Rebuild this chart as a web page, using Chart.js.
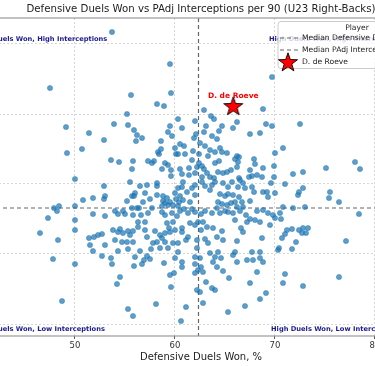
<!DOCTYPE html>
<html><head><meta charset="utf-8">
<style>
html,body{margin:0;padding:0;overflow:hidden;background:#fff;width:375px;height:366px}
#wrap{position:absolute;left:-40px;top:0;width:480px;height:366px}
</style>
<script src="https://cdn.jsdelivr.net/npm/chart.js@4"></script>
</head><body>
<div id="wrap"><canvas id="c" width="480" height="366"></canvas></div>
<script>
const duelsWon = [
53.7,59.5,47.5,55.6,59.6,58.2,58.9,55.2,60.3,49.1,
53.9,55.3,59.5,60.7,55.9,56.2,51.4,59.3,59.7,56.7,
56.1,52.9,58.6,60.5,60.9,49.2,50.7,58.6,60.0,58.3,
58.4,60.1,60.3,61.0,53.6,54.4,55.8,57.3,57.9,57.7,
59.0,59.3,55.7,58.7,59.6,60.5,60.7,59.6,50.0,
69.7,68.8,62.9,62.0,63.6,63.9,66.2,63.1,64.7,65.8,
69.1,69.7,72.5,64.4,62.9,62.1,67.5,68.5,63.7,64.2,
61.9,62.5,63.0,61.8,63.5,64.0,64.7,65.2,62.4,
63.3,66.2,66.4,70.0,70.8,66.0,67.9,64.4,61.7,62.4,
64.0,66.3,68.0,69.9,62.7,62.2,62.9,61.4,65.6,67.5,
65.2,64.3,68.8,78.0,78.5,75.1,72.8,71.8,63.5,63.9,
66.4,67.4,67.7,68.7,69.9,61.4,62.0,62.7,63.2,64.8,
66.2,68.2,64.5,
50.8,51.8,47.9,48.4,48.2,50.0,47.3,50.0,51.8,50.0,
46.5,48.3,51.4,51.9,51.5,51.8,47.8,50.0,48.7,
52.9,53.0,52.9,55.5,56.5,57.2,58.2,58.2,56.0,55.7,
55.9,57.0,57.5,56.8,55.2,58.2,58.8,59.2,60.0,60.3,
60.7,60.8,60.5,61.2,61.7,62.0,62.0,62.7,63.0,63.7,
63.5,64.0,58.8,59.0,59.5,59.8,60.1,60.4,60.8,61.5,
61.7,60.9,60.3,59.3,58.7,57.7,56.4,55.7,56.2,54.0,
54.8,54.3,55.0,53.0,55.8,56.6,57.3,58.7,59.0,59.7,
60.2,60.5,61.3,62.0,62.6,63.0,63.7,52.3,52.7,53.8,
54.5,54.3,55.3,56.3,57.0,56.3,55.8,55.5,54.8,54.0,
54.7,55.2,55.8,57.2,57.0,58.0,58.5,58.7,57.8,58.2,
59.0,59.2,59.4,59.8,59.5,60.0,60.7,60.7,61.5,62.0,
62.3,62.8,62.6,63.2,63.8,61.3,61.1,62.2,63.0,63.3,
64.2,59.0,59.8,60.3,59.3,58.5,57.6,56.5,55.3,54.3,
52.7,53.0,53.6,53.7,56.0,57.2,57.5,56.9,55.9,56.7,
58.9,60.0,60.3,62.2,62.0,62.5,63.5,64.0,63.8,60.7,
60.7,62.0,62.6,62.3,62.8,62.0,59.5,59.9,54.5,54.2,
59.6,62.2,62.5,63.7,64.0,63.1,
64.8,65.3,65.7,66.5,66.8,66.3,67.0,67.7,68.8,69.2,
69.3,70.0,69.6,71.0,72.3,72.4,72.8,75.4,75.5,64.5,
65.0,65.3,65.8,66.4,66.0,66.7,67.5,67.9,64.3,64.7,
65.2,65.6,66.2,66.8,64.2,64.5,65.0,65.3,65.8,66.5,
67.1,67.5,67.2,68.0,68.5,68.2,68.8,69.3,69.5,70.0,
69.8,70.5,70.8,70.6,71.8,73.0,71.0,71.2,71.7,72.4,
72.8,73.3,72.7,73.1,72.1,70.7,71.7,70.4,70.3,68.7,
67.7,68.5,68.5,68.8,67.8,67.2,66.2,66.0,65.8,66.2,
64.8,64.3,64.6,64.2,64.8,65.4,68.2,71.0,70.8,67.5,
72.8,69.1,66.0,66.6,66.8,64.7,
76.4,78.4,77.1,76.4,58.1,55.3,55.8,60.6,61.1,62.8,
65.3,67.0,68.5
];
const interceptions = [
6.92,6.60,6.36,6.29,6.31,6.20,6.18,6.10,6.05,5.97,
6.00,5.99,5.98,5.96,5.94,5.89,5.91,5.92,5.88,5.86,
5.83,5.84,5.83,5.80,5.78,5.71,5.75,5.75,5.76,5.72,
5.70,5.70,5.70,5.70,5.64,5.62,5.63,5.63,5.63,5.61,
5.61,5.59,5.55,5.55,5.54,5.55,5.50,5.48,5.45,
6.47,6.15,6.14,6.03,6.08,6.05,6.02,5.98,5.98,5.96,
6.00,5.98,6.00,5.93,5.92,5.90,5.90,5.91,5.88,5.85,
5.86,5.81,5.78,5.73,5.74,5.72,5.72,5.71,5.70,
5.68,5.68,5.67,5.71,5.76,5.65,5.65,5.63,5.64,5.61,
5.61,5.62,5.60,5.58,5.58,5.57,5.55,5.56,5.54,5.54,
5.52,5.52,5.56,5.62,5.55,5.56,5.52,5.50,5.47,5.46,
5.46,5.47,5.48,5.47,5.47,5.49,5.51,5.47,5.51,5.51,
5.57,5.49,5.76,
5.24,5.26,5.16,5.18,5.13,5.18,5.06,5.04,5.10,4.94,
4.91,4.84,4.86,4.87,4.79,4.73,4.65,4.60,4.23,
5.38,5.28,5.25,5.42,5.38,5.39,5.41,5.38,5.31,5.28,
5.28,5.31,5.25,5.22,5.23,5.29,5.28,5.26,5.31,5.36,
5.37,5.42,5.28,5.32,5.36,5.39,5.29,5.42,5.38,5.39,
5.34,5.42,5.23,5.21,5.22,5.19,5.25,5.22,5.24,5.22,
5.15,5.15,5.18,5.19,5.18,5.16,5.16,5.16,5.16,5.13,
5.13,5.10,5.10,5.08,5.09,5.09,5.11,5.12,5.09,5.11,
5.08,5.13,5.11,5.12,5.10,5.13,5.11,4.89,4.90,4.94,
4.95,4.92,4.93,5.02,5.02,4.97,4.93,4.89,4.91,4.84,
4.82,4.82,4.82,4.87,4.94,4.93,4.89,4.86,4.81,4.82,
4.91,5.01,4.96,5.02,4.92,4.94,4.96,4.92,5.01,4.99,
5.02,5.02,4.94,4.97,4.96,4.87,4.84,4.84,4.85,4.81,
4.87,4.82,4.81,4.81,4.76,4.76,4.75,4.73,4.75,4.73,
4.68,4.79,4.66,4.60,4.67,4.68,4.65,4.64,4.58,4.60,
4.61,4.66,4.72,4.76,4.67,4.66,4.71,4.67,4.62,4.62,
4.57,4.60,4.57,4.54,4.52,4.51,4.49,4.51,4.47,4.40,
4.37,4.34,4.32,4.36,4.34,4.42,
5.41,5.37,5.42,5.44,5.41,5.37,5.36,5.37,5.32,5.32,
5.27,5.31,5.41,5.40,5.29,5.32,5.36,5.26,5.32,5.30,
5.28,5.30,5.29,5.27,5.22,5.22,5.23,5.32,5.22,5.20,
5.19,5.21,5.17,5.17,5.16,5.11,5.13,5.12,5.11,5.13,
5.09,5.05,5.02,5.04,5.02,5.13,5.14,5.11,4.99,5.06,
5.09,5.11,5.17,5.05,5.16,5.17,4.90,4.94,4.95,4.94,
4.96,4.96,4.91,4.91,4.82,4.86,4.75,4.76,4.74,4.86,
4.72,4.72,4.66,4.62,4.64,4.64,4.62,4.72,4.69,4.83,
4.84,4.72,4.66,4.57,4.53,4.46,4.52,4.50,4.41,4.41,
4.38,4.31,5.04,4.96,4.92,4.93,
5.22,5.10,4.83,4.47,4.20,4.15,4.08,4.03,4.17,4.21,
4.12,4.18,4.25
];
const medianDuels = 62.35;
const medianInterceptions = 5.16;
const playerName = 'D. de Roeve';
const playerDuels = [65.83];
const playerInterceptions = [6.18];
const xTickValues = [40, 50, 60, 70, 80];
const yGridValues = [4.0, 4.7, 5.4, 6.1, 6.8];
const quadrantLabels = ['Low Duels Won, High Interceptions', 'High Duels Won, High Interceptions',
                        'Low Duels Won, Low Interceptions', 'High Duels Won, Low Interceptions'];
const legendTitle = 'Player';
const legendLabels = ['Median Defensive Duels Won', 'Median PAdj Interceptions', playerName];
const chartTitle = 'Defensive Duels Won vs PAdj Interceptions per 90 (U23 Right-Backs)';

const FONT = "'DejaVu Sans', 'Liberation Sans', sans-serif";

function makeStar(size, outer, inner) {
  const c = document.createElement('canvas');
  c.width = size; c.height = size;
  const g = c.getContext('2d');
  const cx = size / 2, cy = size / 2 + 0.8;
  g.beginPath();
  for (let i = 0; i < 10; i++) {
    const r = i % 2 === 0 ? outer : inner;
    const a = -Math.PI / 2 + i * Math.PI / 5;
    const px = cx + r * Math.cos(a), py = cy + r * Math.sin(a);
    if (i === 0) g.moveTo(px, py); else g.lineTo(px, py);
  }
  g.closePath();
  g.fillStyle = '#ff0000';
  g.fill();
  g.lineWidth = 0.9;
  g.strokeStyle = '#000';
  g.stroke();
  return c;
}
const starImg = makeStar(24, 10, 4);

const decor = {
  id: 'decor',
  beforeDatasetsDraw(chart) {
    const {ctx, chartArea: a, scales: {x, y}} = chart;
    ctx.save();
    ctx.strokeStyle = '#666';
    ctx.lineWidth = 1.2;
    ctx.setLineDash([4, 3]);
    const mx = x.getPixelForValue(medianDuels);
    const my = y.getPixelForValue(medianInterceptions);
    ctx.beginPath(); ctx.moveTo(mx, a.top); ctx.lineTo(mx, a.bottom); ctx.stroke();
    ctx.beginPath(); ctx.moveTo(a.left, my); ctx.lineTo(a.right, my); ctx.stroke();
    ctx.restore();
  },
  afterDatasetsDraw(chart) {
    const {ctx, chartArea: a, scales: {x, y}} = chart;
    ctx.save();
    const sx = x.getPixelForValue(playerDuels[0]);
    const sy = y.getPixelForValue(playerInterceptions[0]);
    ctx.font = 'bold 7.5px ' + FONT;
    ctx.fillStyle = '#ff0000';
    ctx.textAlign = 'center';
    ctx.textBaseline = 'middle';
    ctx.fillText(playerName, sx, sy - 10);
    ctx.font = 'bold 6.7px ' + FONT;
    ctx.fillStyle = '#1c1c8c';
    ctx.textAlign = 'left';
    const yHi = y.getPixelForValue(6.85), yLo = y.getPixelForValue(3.95);
    ctx.fillText(quadrantLabels[0], x.getPixelForValue(40), yHi);
    ctx.fillText(quadrantLabels[1], x.getPixelForValue(69.4), yHi);
    ctx.fillText(quadrantLabels[2], x.getPixelForValue(40), yLo);
    ctx.fillText(quadrantLabels[3], x.getPixelForValue(69.6), yLo);
    ctx.strokeStyle = '#999';
    ctx.lineWidth = 1.2;
    ctx.strokeRect(a.left, a.top, a.right - a.left, a.bottom - a.top);
    ctx.restore();
  },
  afterDraw(chart) {
    const {ctx, chartArea: a} = chart;
    ctx.save();
    ctx.font = '10.2px ' + FONT;
    ctx.fillStyle = '#222';
    ctx.textAlign = 'center';
    ctx.textBaseline = 'middle';
    ctx.fillText(chartTitle, (a.left + a.right) / 2, 9);
    const lx = a.right - 149, ly = a.top + 3.5, lw = 158, lh = 47;
    ctx.fillStyle = 'rgba(255,255,255,0.8)';
    ctx.strokeStyle = '#cccccc';
    ctx.lineWidth = 1;
    ctx.beginPath();
    ctx.roundRect(lx, ly, lw, lh, 3);
    ctx.fill(); ctx.stroke();
    ctx.fillStyle = '#222';
    ctx.font = '7.6px ' + FONT;
    ctx.textAlign = 'center';
    ctx.fillText(legendTitle, lx + lw / 2, ly + 6.5);
    ctx.textAlign = 'left';
    const rows = [ly + 16.5, ly + 28.5, ly + 40.5];
    ctx.strokeStyle = '#666';
    ctx.lineWidth = 1.2;
    ctx.setLineDash([4, 3]);
    for (let i = 0; i < 2; i++) {
      ctx.beginPath(); ctx.moveTo(lx + 2, rows[i]); ctx.lineTo(lx + 20, rows[i]); ctx.stroke();
    }
    ctx.setLineDash([]);
    ctx.drawImage(starImg, lx + 10 - 12, rows[2] - 12);
    ctx.fillStyle = '#222';
    for (let i = 0; i < 3; i++) ctx.fillText(legendLabels[i], lx + 24, rows[i]);
    ctx.restore();
  }
};

new Chart(document.getElementById('c'), {
  type: 'scatter',
  data: {
    datasets: [
      {
        label: 'Players',
        data: duelsWon.map((v, i) => ({x: v, y: interceptions[i]})),
        backgroundColor: 'rgba(31,119,180,0.72)',
        borderColor: 'rgba(31,119,180,0.85)',
        borderWidth: 0.5,
        pointRadius: 2.6,
        order: 2
      },
      {
        label: playerName,
        data: playerDuels.map((v, i) => ({x: v, y: playerInterceptions[i]})),
        pointStyle: starImg,
        pointRadius: 10,
        order: 1
      }
    ]
  },
  options: {
    responsive: false,
    animation: false,
    events: [],
    layout: {padding: {left: 15, right: 13, top: 18, bottom: 0}},
    plugins: {legend: {display: false}, title: {display: false}, tooltip: {enabled: false}},
    scales: {
      x: {
        type: 'linear', min: 40, max: 85.2,
        afterBuildTicks: s => { s.ticks = xTickValues.map(v => ({value: v})); },
        afterFit: s => { s.height = 30; },
        grid: {color: '#d6d6d6', lineWidth: 1, drawTicks: true, tickLength: 3, tickColor: '#555', tickBorderDash: []},
        border: {display: false, dash: [2, 2]},
        ticks: {font: {family: FONT, size: 8.5}, color: '#333', padding: 2, maxRotation: 0},
        title: {display: true, text: 'Defensive Duels Won, %', font: {family: FONT, size: 10}, color: '#222', padding: {top: 0, bottom: 3}}
      },
      y: {
        type: 'linear', min: 3.88, max: 7.06,
        afterBuildTicks: s => { s.ticks = yGridValues.map(v => ({value: v})); },
        afterFit: s => { s.width = 0; },
        grid: {color: '#d6d6d6', lineWidth: 1, drawTicks: false},
        border: {display: false, dash: [2, 2]},
        ticks: {display: false}
      }
    }
  },
  plugins: [decor]
});
</script>
</body></html>
